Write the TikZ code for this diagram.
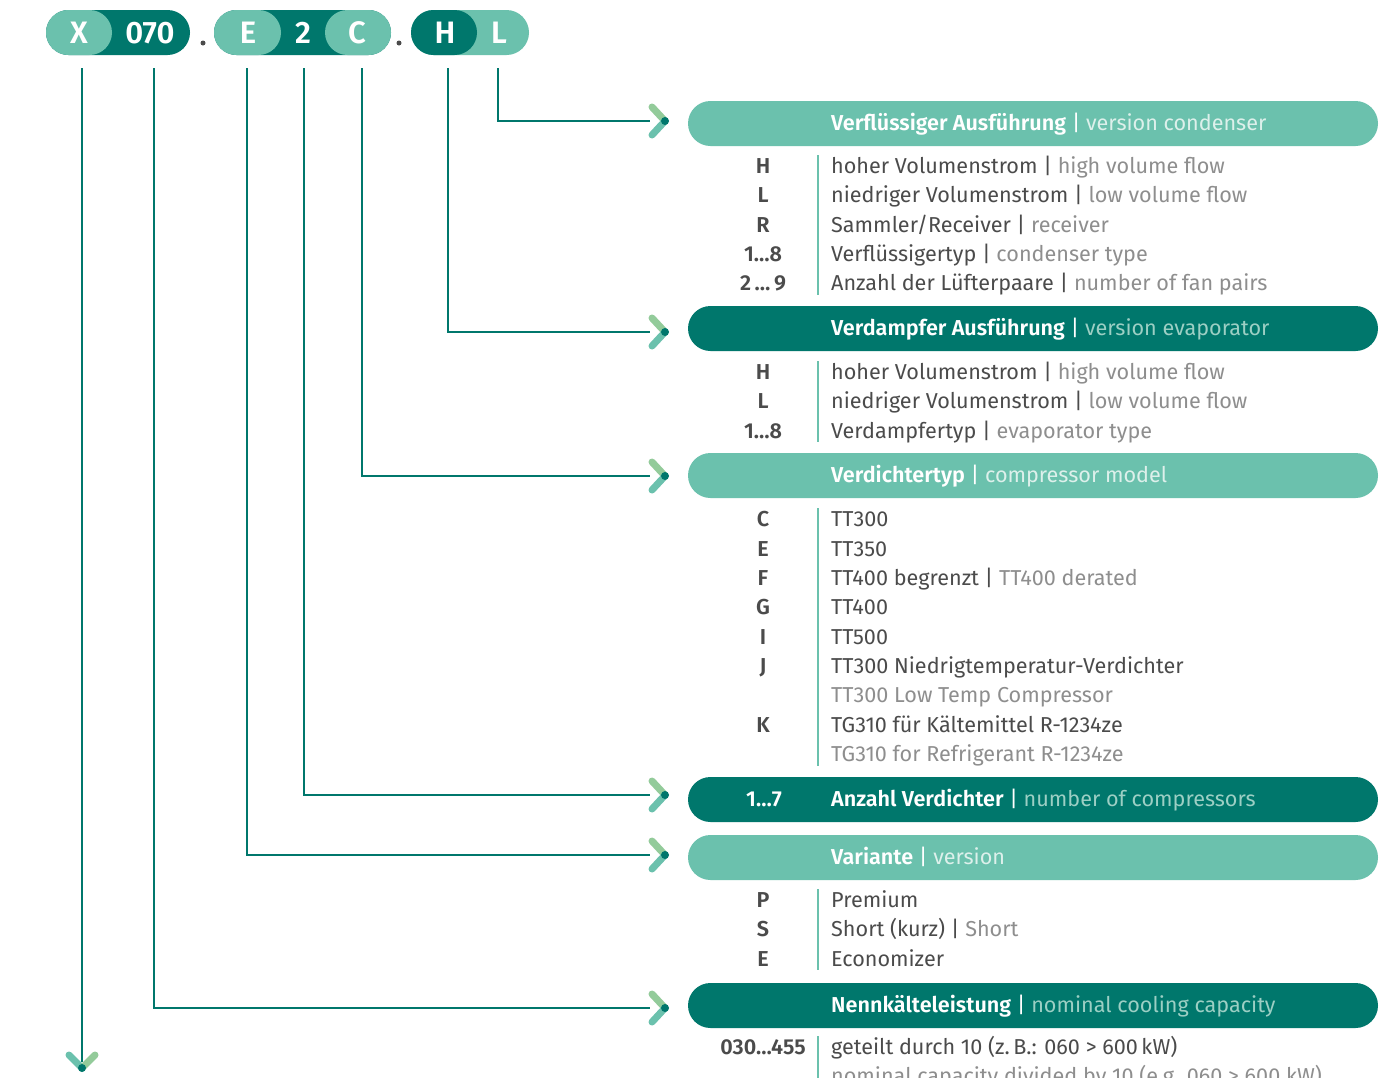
\documentclass[tikz,border=0pt]{standalone}
\usepackage{fontspec}
\setmainfont{Fira Sans}[BoldFont={Fira Sans SemiBold}]
\usetikzlibrary{positioning}

\definecolor{darkteal}{HTML}{00776C}
\definecolor{lightteal}{HTML}{6BC1AD}
\definecolor{lightgreen}{HTML}{93CB9A}
\definecolor{textdark}{HTML}{4B4B4B}
\definecolor{textlight}{HTML}{8E8E8E}
\definecolor{onlight}{HTML}{DDF0EB}
\definecolor{ondark}{HTML}{9CCFC4}

\tikzset{
  link/.style={draw=darkteal, line width=2.5},
  sep/.style={draw=lightteal, line width=1.2},
  arm/.style={line width=7, line cap=round},
  pill/.style={rectangle, rounded corners=22.5, minimum height=45, inner sep=0},
  bar/.style={rectangle, rounded corners=22.5, minimum width=690, minimum height=45, inner sep=0},
  letter/.style={text=white, inner sep=0, font=\fontsize{31}{34}\selectfont\bfseries},
  head/.style={anchor=base west, inner sep=0, text=white, font=\fontsize{21.6}{25}\selectfont},
  desc/.style={anchor=base west, inner sep=0, text=textdark, font=\fontsize{21.6}{25}\selectfont},
  code/.style={anchor=base, inner sep=0, text=textdark, font=\fontsize{21.6}{25}\selectfont\bfseries},
}

% chevron with its tip at #1
\newcommand{\chevron}[1]{%
  \draw[arm, lightgreen] (#1) -- ++(-13,-14);
  \draw[arm, lightteal] (#1) -- ++(-13,14);
  \fill[darkteal] (#1) circle (4);
}
\newcommand{\en}[1]{\textcolor{textlight}{#1}}

\begin{document}
\begin{tikzpicture}[x=1pt,y=-1pt]
\clip (0,0) rectangle (1399,1077);
\fill[white] (0,0) rectangle (1399,1077);

% type code pills
\node[pill, fill=darkteal, minimum width=144] (pill1) at (118,32.5) {};
\node[pill, fill=lightteal, minimum width=66] (pill1a) at (79,32.5) {};
\node[pill, fill=darkteal, minimum width=177] (pill2) at (302.5,32.5) {};
\node[pill, fill=lightteal, minimum width=67] (pill2a) at (247.5,32.5) {};
\node[pill, fill=lightteal, minimum width=66] (pill2b) at (358,32.5) {};
\node[pill, fill=lightteal, minimum width=118] (pill3) at (470,32.5) {};
\node[pill, fill=darkteal, minimum width=66] (pill3a) at (444,32.5) {};

\node[letter] (pX) at (79,33) {X};
\node[letter] (p070) at (150,33) {070};
\node[letter] (pE) at (248,33) {E};
\node[letter] (p2) at (303,33) {2};
\node[letter] (pC) at (357,33) {C};
\node[letter] (pH) at (445,33) {H};
\node[letter] (pL) at (499,33) {L};
\fill[textdark] (203,43) circle (2.5);
\fill[textdark] (399,43) circle (2.5);

% bars
\node[bar, fill=lightteal] (bcond) at (1033,123.5) {};
\node[bar, fill=darkteal] (bevap) at (1033,328.5) {};
\node[bar, fill=lightteal] (bcomp) at (1033,475.5) {};
\node[bar, fill=darkteal] (bnum) at (1033,799.5) {};
\node[bar, fill=lightteal] (bvar) at (1033,857.5) {};
\node[bar, fill=darkteal] (bcap) at (1033,1005.5) {};

\node[head] (hcond) at (831,130.5) {\textbf{Verflüssiger Ausführung} | \textcolor{onlight}{version condenser}};
\node[head] (hevap) at (831,335.5) {\textbf{Verdampfer Ausführung} | \textcolor{ondark}{version evaporator}};
\node[head] (hcomp) at (831,482.5) {\textbf{Verdichtertyp} | \textcolor{onlight}{compressor model}};
\node[head, anchor=base] (hnumc) at (764,806.5) {\textbf{1…7}};
\node[head] (hnum) at (831,806.5) {\textbf{Anzahl Verdichter} | \textcolor{ondark}{number of compressors}};
\node[head] (hvar) at (831,864.5) {\textbf{Variante} | \textcolor{onlight}{version}};
\node[head] (hcap) at (831,1012.5) {\textbf{Nennkälteleistung} | \textcolor{ondark}{nominal cooling capacity}};

% chevron tips and line ends
\coordinate (tcond) at (665,121);
\coordinate (tevap) at (665,332);
\coordinate (tcomp) at (665,476);
\coordinate (tnum) at (665,795);
\coordinate (tvar) at (665,855);
\coordinate (tcap) at (665,1008);
\coordinate (acond) at (650,121);
\coordinate (aevap) at (650,332);
\coordinate (acomp) at (650,476);
\coordinate (anum) at (650,795);
\coordinate (avar) at (650,855);
\coordinate (acap) at (650,1008);
\coordinate (adown) at (82,1062);

\coordinate (sX) at (82,68);
\coordinate (s070) at (154,68);
\coordinate (sE) at (247,68);
\coordinate (s2) at (304,68);
\coordinate (sC) at (362,68);
\coordinate (sH) at (448,68);
\coordinate (sL) at (498,68);

\draw[link] (sL) |- (acond);
\draw[link] (sH) |- (aevap);
\draw[link] (sC) |- (acomp);
\draw[link] (s2) |- (anum);
\draw[link] (sE) |- (avar);
\draw[link] (s070) |- (acap);
\draw[link] (sX) -- (adown);

\chevron{tcond}
\chevron{tevap}
\chevron{tcomp}
\chevron{tnum}
\chevron{tvar}
\chevron{tcap}
\draw[arm, lightteal] (82,1068) -- ++(-13,-13);
\draw[arm, lightgreen] (82,1068) -- ++(13,-13);
\fill[darkteal] (82,1068) circle (4);

% separators
\draw[sep] (818,155) -- (818,295);
\draw[sep] (818,361) -- (818,442);
\draw[sep] (818,508) -- (818,766);
\draw[sep] (818,889) -- (818,970);
\draw[sep] (818,1036) -- (818,1080);

% condenser
\node[code] (kc1) at (763,173) {H};
\node[code] (kc2) at (763,202) {L};
\node[code] (kc3) at (763,232) {R};
\node[code] (kc4) at (763,261) {1…8};
\node[code] (kc5) at (763,290) {2\,…\,9};
\node[desc] (dc1) at (831,173) {hoher Volumenstrom | \en{high volume flow}};
\node[desc] (dc2) at (831,202) {niedriger Volumenstrom | \en{low volume flow}};
\node[desc] (dc3) at (831,232) {Sammler/Receiver | \en{receiver}};
\node[desc] (dc4) at (831,261) {Verflüssigertyp | \en{condenser type}};
\node[desc] (dc5) at (831,290) {Anzahl der Lüfterpaare | \en{number of fan pairs}};

% evaporator
\node[code] (ke1) at (763,379) {H};
\node[code] (ke2) at (763,408) {L};
\node[code] (ke3) at (763,438) {1…8};
\node[desc] (de1) at (831,379) {hoher Volumenstrom | \en{high volume flow}};
\node[desc] (de2) at (831,408) {niedriger Volumenstrom | \en{low volume flow}};
\node[desc] (de3) at (831,438) {Verdampfertyp | \en{evaporator type}};

% compressor
\node[code] (kv1) at (763,526) {C};
\node[code] (kv2) at (763,556) {E};
\node[code] (kv3) at (763,585) {F};
\node[code] (kv4) at (763,614) {G};
\node[code] (kv5) at (763,644) {I};
\node[code] (kv6) at (763,673) {J};
\node[code] (kv7) at (763,732) {K};
\node[desc] (dv1) at (831,526) {TT300};
\node[desc] (dv2) at (831,556) {TT350};
\node[desc] (dv3) at (831,585) {TT400 begrenzt | \en{TT400 derated}};
\node[desc] (dv4) at (831,614) {TT400};
\node[desc] (dv5) at (831,644) {TT500};
\node[desc] (dv6) at (831,673) {TT300 Niedrigtemperatur-Verdichter};
\node[desc, text=textlight] (dv6b) at (831,702) {TT300 Low Temp Compressor};
\node[desc] (dv7) at (831,732) {TG310 für Kältemittel R-1234ze};
\node[desc, text=textlight] (dv7b) at (831,761) {TG310 for Refrigerant R-1234ze};

% version
\node[code] (kw1) at (763,907) {P};
\node[code] (kw2) at (763,936) {S};
\node[code] (kw3) at (763,966) {E};
\node[desc] (dw1) at (831,907) {Premium};
\node[desc] (dw2) at (831,936) {Short (kurz) | \en{Short}};
\node[desc] (dw3) at (831,966) {Economizer};

% capacity
\node[code] (kn1) at (763,1054) {030…455};
\node[desc] (dn1) at (831,1054) {geteilt durch 10 (z.\,B.: 060 > 600\,kW)};
\node[desc, text=textlight] (dn2) at (831,1083) {nominal capacity divided by 10 (e.g. 060 > 600 kW)};

\end{tikzpicture}
\end{document}
